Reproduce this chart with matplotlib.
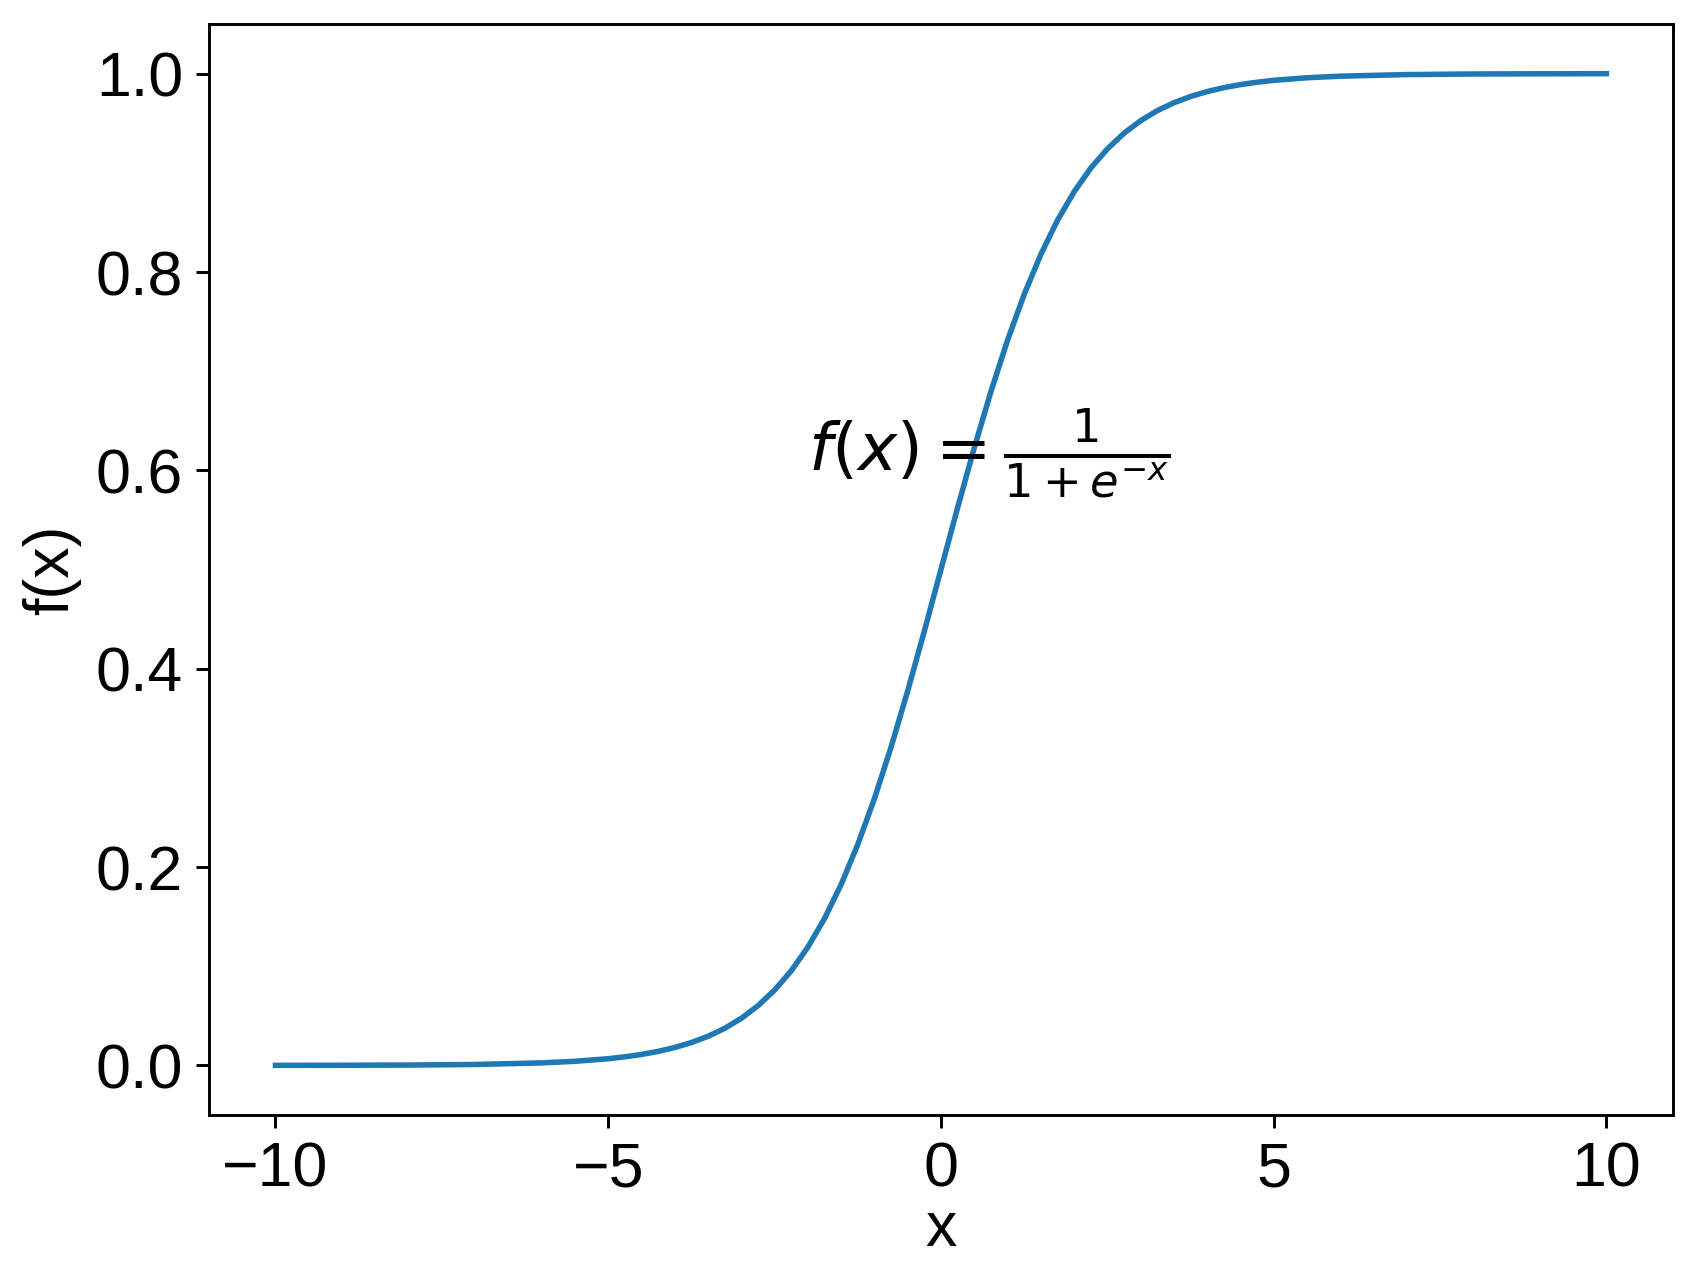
#!/usr/bin/env python3
# -*- coding: utf-8 -*-
import numpy as np
from matplotlib import pyplot as plt
import matplotlib as mpl

x_vals = [-10, -9, -8, -7, -6, -5.5,
          -5, -4.75, -4.5, -4.25, -4, -3.75, -3.5, -3.25, -3, -2.75,
          -2.5, -2.25, -2, -1.75, -1.5, -1.25, -1, -0.75, -0.5, -0.25,
          0, 0.25, 0.5, 0.75, 1, 1.25, 1.5, 1.75, 2, 2.25,
          2.5, 2.75, 3, 3.25, 3.5, 3.75, 4, 4.25, 4.5, 4.75, 5,
          5.5, 6, 7, 8, 9, 10]
y_vals = [0.0000, 0.0001, 0.0003, 0.0009, 0.0025, 0.0041,
          0.0067, 0.0086, 0.0110, 0.0141, 0.0180, 0.0230, 0.0293, 0.0373, 0.0474, 0.0601,
          0.0759, 0.0953, 0.1192, 0.1480, 0.1824, 0.2227, 0.2689, 0.3208, 0.3775, 0.4378,
          0.5000, 0.5622, 0.6225, 0.6792, 0.7311, 0.7773, 0.8176, 0.8520, 0.8808, 0.9047,
          0.9241, 0.9399, 0.9526, 0.9627, 0.9707, 0.9770, 0.9820, 0.9859, 0.9890, 0.9914, 0.9933,
          0.9959, 0.9975, 0.9991, 0.9997, 0.9999, 1.0000]

x_ticks = [-10, -5, 0, 5, 10]
y_ticks = [0.0, 0.2, 0.4, 0.6, 0.8, 1.0]
formula = r'$f(x)=\frac{1}{1+e^{-x}}$'


def set_mpl():
    mpl.rcParams.update(
        {
            'font.family': ['Liberation Sans', 'Noto Sans CJK SC', 'DejaVu Sans'],
            'mathtext.fontset': 'dejavusans',
            'axes.unicode_minus': True,
            'font.size': 17,
            'xtick.labelsize': 17,
            'ytick.labelsize': 17,
            'axes.labelsize': 17,
            'lines.linewidth': 1.5,
        }
    )


def plot_figure():
    set_mpl()
    fig = plt.figure(figsize=(6.4, 1269 / 265), dpi=265)
    ax1 = fig.subplots()
    fig.subplots_adjust(left=0.1232, right=0.9864, top=0.981, bottom=0.1214)

    ax1.plot(x_vals, y_vals, color=plt.get_cmap('tab10')(0), solid_joinstyle='round')
    ax1.text(-2, 0.6, formula, fontsize=18)

    ax1.set_xticks(x_ticks)
    ax1.set_yticks(y_ticks)
    ax1.set_yticklabels([f'{v:.1f}' for v in y_ticks])
    plt.xlabel('x', labelpad=0)
    plt.ylabel('f(x)', labelpad=4)

    plt.savefig('out.png', dpi=265)


if __name__ == "__main__":
    plot_figure()
